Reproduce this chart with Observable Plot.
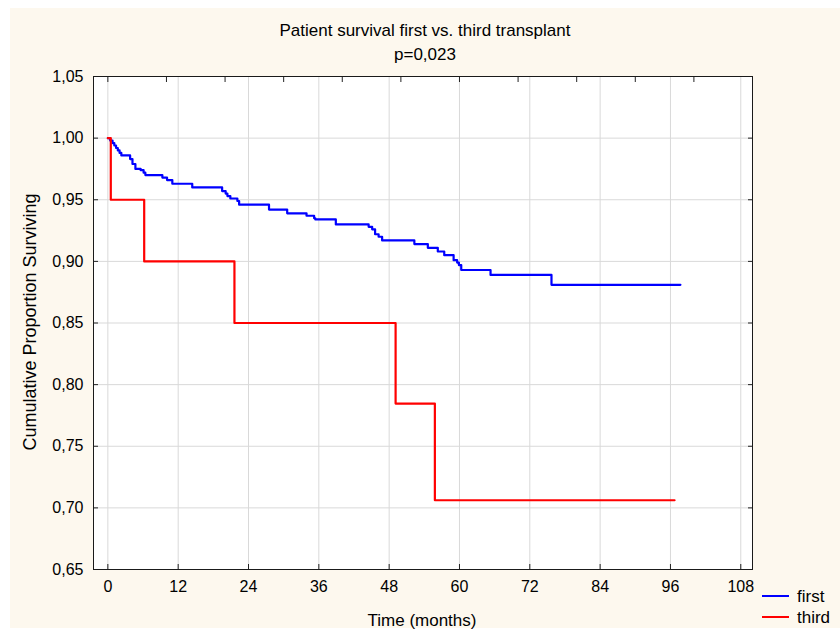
<!DOCTYPE html>
<html><head><meta charset="utf-8">
<script src="https://cdn.jsdelivr.net/npm/d3@7"></script>
<script src="https://cdn.jsdelivr.net/npm/@observablehq/plot@0.6"></script>
<style>
html,body{margin:0;padding:0;background:#fff;}
#wrap{position:relative;width:840px;height:630px;overflow:hidden;font-family:"Liberation Sans",Arial,sans-serif;color:#000;}
#panel{position:absolute;left:10px;top:8px;width:830px;height:620px;background:#fdf8ee;}
#chart{position:absolute;left:0;top:0;}
.t{position:absolute;white-space:nowrap;line-height:1;}
.lg{position:absolute;height:2px;width:27px;}
</style></head><body>
<div id="wrap">
<div id="panel"></div>
<div id="chart"></div>
<div class="t" style="left:0;width:850px;text-align:center;top:22px;font-size:17px">Patient survival first vs. third transplant</div>
<div class="t" style="left:0;width:850px;text-align:center;top:46px;font-size:17px">p=0,023</div>
<div class="t" style="left:422px;top:620px;font-size:17px;transform:translate(-50%,-50%)">Time (months)</div>
<div class="t" style="left:30px;top:322px;font-size:18px;transform:translate(-50%,-50%) rotate(-90deg)">Cumulative Proportion Surviving</div>
<div class="lg" style="left:762px;top:595px;background:#0000ff"></div>
<div class="lg" style="left:762px;top:616px;background:#ff0000"></div>
<div class="t" style="left:797px;top:596px;font-size:17px;transform:translateY(-50%)">first</div>
<div class="t" style="left:797px;top:617px;font-size:17px;transform:translateY(-50%)">third</div>
</div>
<script>
// Tick values
const xTicks = [0, 12, 24, 36, 48, 60, 72, 84, 96, 108];
const xTopTicks = [0, 10, 20, 30, 40, 50, 60, 70, 80, 90, 100];
const yTicks = [0.65, 0.70, 0.75, 0.80, 0.85, 0.90, 0.95, 1.00, 1.05];

// Series "first": time (months) at which survival changes, and survival after it
const firstTime = [0, 0.4, 0.8, 1.1, 1.4, 1.7, 2.0, 2.3, 3.8, 4.2, 4.7, 5.6, 6.1, 6.4, 9.3, 10.1, 11.0, 14.4, 19.5, 20.1, 20.4, 20.9, 22.1, 22.4, 27.5, 30.6, 33.9, 35.2, 35.4, 38.9, 44.5, 45.1, 45.6, 46.2, 46.8, 52.3, 54.6, 56.3, 57.4, 59.0, 59.6, 59.9, 60.3, 65.3, 75.7, 97.7];
const firstSurv = [1.000, 0.998, 0.996, 0.994, 0.992, 0.990, 0.988, 0.986, 0.983, 0.979, 0.975, 0.974, 0.972, 0.970, 0.968, 0.966, 0.963, 0.960, 0.957, 0.955, 0.953, 0.951, 0.949, 0.946, 0.942, 0.939, 0.937, 0.935, 0.934, 0.930, 0.928, 0.926, 0.922, 0.920, 0.917, 0.914, 0.911, 0.908, 0.905, 0.901, 0.899, 0.897, 0.893, 0.889, 0.881, 0.881];

// Series "third"
const thirdTime = [0, 0.5, 6.2, 21.6, 49.1, 55.8, 96.7];
const thirdSurv = [1.000, 0.950, 0.900, 0.850, 0.7846, 0.7062, 0.7062];

const first = firstTime.map((t, i) => ({t, s: firstSurv[i]}));
const third = thirdTime.map((t, i) => ({t, s: thirdSurv[i]}));

const fmt = d => d.toFixed(2).replace(".", ",");

const plot = Plot.plot({
  width: 840, height: 630,
  marginLeft: 93, marginRight: 88, marginTop: 76, marginBottom: 61,
  style: {background: "transparent", fontFamily: "'Liberation Sans', Arial, sans-serif", fontSize: "16px", color: "#000"},
  x: {domain: [-2.45, 110]},
  y: {domain: [0.65, 1.05]},
  marks: [
    Plot.frame({fill: "white", stroke: null}),
    Plot.gridX(xTicks, {stroke: "#d9d9d9", strokeOpacity: 1}),
    Plot.gridY(yTicks, {stroke: "#d9d9d9", strokeOpacity: 1}),
    Plot.line(first, {x: "t", y: "s", curve: "step-after", stroke: "#0000ff", strokeWidth: 2.2}),
    Plot.line(third, {x: "t", y: "s", curve: "step-after", stroke: "#ff0000", strokeWidth: 2.2}),
    Plot.axisX(xTicks, {anchor: "bottom", tickSize: -5, tickPadding: 16, label: null, stroke: "#222"}),
    Plot.axisX(xTopTicks, {anchor: "top", tickSize: -5, tickFormat: () => "", label: null, stroke: "#222"}),
    Plot.axisY(yTicks, {anchor: "left", tickSize: -5, tickPadding: 15, tickFormat: fmt, label: null, stroke: "#222"}),
    Plot.axisY(yTicks, {anchor: "right", tickSize: -5, tickFormat: () => "", label: null, stroke: "#222"}),
    Plot.frame({stroke: "#1a1a1a"})
  ]
});
document.getElementById("chart").appendChild(plot);
</script>
</body></html>
